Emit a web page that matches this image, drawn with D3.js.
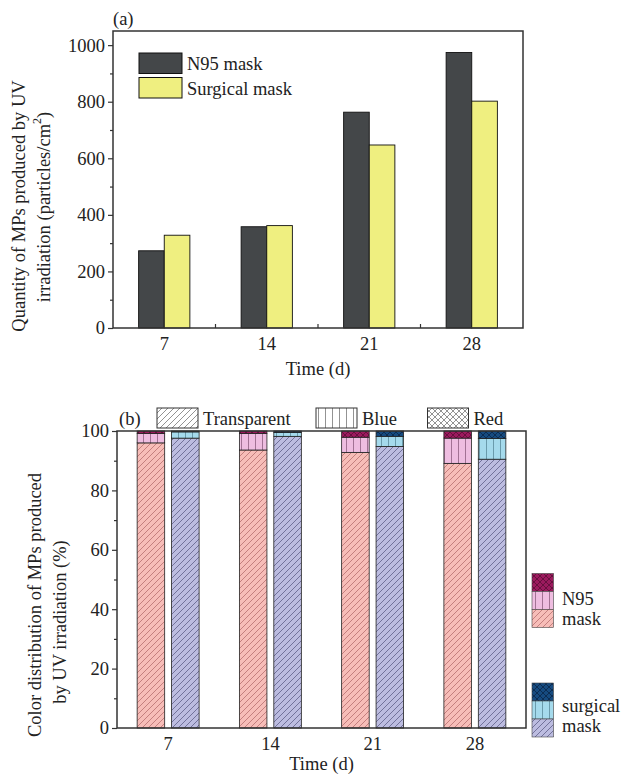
<!DOCTYPE html>
<html>
<head>
<meta charset="utf-8">
<script src="https://cdn.jsdelivr.net/npm/d3@7"></script>
<style>
  html, body { margin: 0; padding: 0; background: #fff; }
  svg { display: block; }
  text { font-family: "Liberation Serif", "Times New Roman", serif; fill: #222; }
</style>
</head>
<body>
<svg id="chart" width="622" height="774"></svg>
<script>
// ---------- DATA ----------
const days = ["7", "14", "21", "28"];
// (a) Quantity of MPs (particles/cm^2)
const n95Quantity = [273, 358, 763, 974];
const surgicalQuantity = [328, 362, 647, 802];
const quantityTicks = [0, 200, 400, 600, 800, 1000];
// (b) Colour distribution (%)
const colorKeys = ["Transparent", "Blue", "Red"];
const n95Transparent = [96.0, 93.6, 92.8, 89.1];
const n95Blue = [3.2, 5.6, 5.1, 8.5];
const n95Red = [0.8, 0.8, 2.1, 2.4];
const surgicalTransparent = [97.6, 98.2, 94.8, 90.5];
const surgicalBlue = [2.1, 1.3, 3.4, 7.0];
const surgicalRed = [0.3, 0.5, 1.8, 2.5];
const percentTicks = [0, 20, 40, 60, 80, 100];

// ---------- SETUP ----------
const svg = d3.select("#chart");
const defs = svg.append("defs");
const FONT = 18.5;
const AX = "#333";

function makePattern(id, type, bg, fg) {
  const size = type === "vert" ? 7 : 6;
  const p = defs.append("pattern").attr("id", id)
    .attr("patternUnits", "userSpaceOnUse")
    .attr("width", size).attr("height", size);
  p.append("rect").attr("width", size).attr("height", size).attr("fill", bg);
  const g = p.append("g").attr("stroke", fg).attr("stroke-width", 0.8).attr("fill", "none");
  if (type === "diag" || type === "cross") {
    g.append("path").attr("d", `M-1,1 l2,-2 M0,${size} l${size},-${size} M${size - 1},${size + 1} l2,-2`);
  }
  if (type === "cross") {
    g.append("path").attr("d", `M-1,${size - 1} l2,2 M0,0 l${size},${size} M${size - 1},-1 l2,2`);
  }
  if (type === "vert") {
    g.append("path").attr("d", `M${size / 2},0 v${size}`);
  }
}
const patType = { Transparent: "diag", Blue: "vert", Red: "cross" };
const n95Colors = { Transparent: ["#F7BDB8", "#B86E6E"], Blue: ["#EEBDE0", "#8E5E80"], Red: ["#9C1A5E", "#5A0E36"] };
const surgColors = { Transparent: ["#BCBCE0", "#606088"], Blue: ["#A5DAEC", "#5A8C9C"], Red: ["#164B80", "#0A2648"] };
colorKeys.forEach(k => {
  makePattern("n95-" + k, patType[k], n95Colors[k][0], n95Colors[k][1]);
  makePattern("surg-" + k, patType[k], surgColors[k][0], surgColors[k][1]);
  makePattern("leg-" + k, patType[k], "#fff", "#777");
});

function styleAxis(g) {
  g.select(".domain").remove();
  g.selectAll("line").attr("stroke", AX).attr("stroke-width", 1.2);
  g.selectAll("text").attr("font-size", FONT).attr("fill", "#222")
    .attr("font-family", '"Liberation Serif", serif');
}

// ================= (a) =================
{
  const L = 113, R = 523, T = 31, B = 328;
  const x = d3.scaleBand().domain(days).range([L, R]).padding(0);
  const y = d3.scaleLinear().domain([0, 1050]).range([B, T]);
  const sub = d3.scaleBand().domain(["N95", "Surgical"])
    .range([x.bandwidth() * 0.25, x.bandwidth() * 0.75]).padding(0);

  const rows = days.map((d, i) => ({ day: d, N95: n95Quantity[i], Surgical: surgicalQuantity[i] }));
  const colA = { N95: "#444749", Surgical: "#EFEF80" };

  const g = svg.append("g");
  rows.forEach(r => {
    ["N95", "Surgical"].forEach(k => {
      g.append("rect")
        .attr("x", x(r.day) + sub(k)).attr("width", sub.bandwidth())
        .attr("y", y(r[k])).attr("height", y(0) - y(r[k]))
        .attr("fill", colA[k]).attr("stroke", "#111").attr("stroke-width", 0.9);
    });
  });

  // y axis major + minor
  const ya = svg.append("g").attr("transform", `translate(${L},0)`)
    .call(d3.axisLeft(y).tickValues(quantityTicks).tickFormat(d3.format("d")).tickSize(5).tickPadding(3));
  styleAxis(ya);
  const ym = svg.append("g").attr("transform", `translate(${L},0)`)
    .call(d3.axisLeft(y).tickValues(d3.range(100, 1001, 200)).tickSize(3).tickFormat(""));
  styleAxis(ym);

  // x axis labels, boundary ticks
  const xa = svg.append("g").attr("transform", `translate(0,${B})`)
    .call(d3.axisBottom(x).tickSize(0).tickPadding(9));
  styleAxis(xa);
  xa.selectAll("text").attr("dy", "0.71em");
  svg.append("g").selectAll("line").data(days.slice(1)).join("line")
    .attr("x1", d => x(d)).attr("x2", d => x(d))
    .attr("y1", B).attr("y2", B - 4).attr("stroke", AX).attr("stroke-width", 1.2);

  // frame
  svg.append("rect").attr("x", L).attr("y", T).attr("width", R - L).attr("height", B - T)
    .attr("fill", "none").attr("stroke", AX).attr("stroke-width", 1.5);

  // legend
  const leg = [["N95", "N95 mask"], ["Surgical", "Surgical mask"]];
  leg.forEach((l, i) => {
    svg.append("rect").attr("x", 139).attr("y", 53 + i * 24.5).attr("width", 43).attr("height", 20.5)
      .attr("fill", colA[l[0]]).attr("stroke", "#111").attr("stroke-width", 1);
    svg.append("text").attr("x", 187).attr("y", 70 + i * 24.5).attr("font-size", FONT).text(l[1]);
  });

  svg.append("text").attr("x", 113).attr("y", 25).attr("font-size", FONT).text("(a)");
  svg.append("text").attr("x", (L + R) / 2).attr("y", 375).attr("text-anchor", "middle")
    .attr("font-size", FONT).text("Time (d)");

  // y title
  svg.append("text").attr("transform", "translate(25,206) rotate(-90)").attr("text-anchor", "middle")
    .attr("font-size", FONT).text("Quantity of MPs produced by UV");
  const t2 = svg.append("text").attr("transform", "translate(50,207) rotate(-90)").attr("text-anchor", "middle")
    .attr("font-size", FONT);
  t2.append("tspan").text("irradiation (particles/cm");
  t2.append("tspan").attr("font-size", 12).attr("dy", -9).text("2");
  t2.append("tspan").attr("dy", 9).text(")");
}

// ================= (b) =================
{
  const L = 117, R = 526, T = 431, B = 728;
  const x = d3.scaleBand().domain(days).range([L, R]).padding(0);
  const y = d3.scaleLinear().domain([0, 100]).range([B, T]);
  const sub = d3.scaleBand().domain(["N95", "Surgical"])
    .range([x.bandwidth() * 0.197, x.bandwidth() * 0.803]).paddingInner(0.2).paddingOuter(0);

  const n95Rows = days.map((d, i) => ({ day: d, Transparent: n95Transparent[i], Blue: n95Blue[i], Red: n95Red[i] }));
  const surgRows = days.map((d, i) => ({ day: d, Transparent: surgicalTransparent[i], Blue: surgicalBlue[i], Red: surgicalRed[i] }));
  const stack = d3.stack().keys(colorKeys);

  [["N95", "n95", n95Rows], ["Surgical", "surg", surgRows]].forEach(([mask, pre, rows]) => {
    const series = stack(rows);
    series.forEach(s => {
      svg.append("g").selectAll("rect").data(s).join("rect")
        .attr("x", d => x(d.data.day) + sub(mask)).attr("width", sub.bandwidth())
        .attr("y", d => y(d[1])).attr("height", d => y(d[0]) - y(d[1]))
        .attr("fill", `url(#${pre}-${s.key})`).attr("stroke", "#222").attr("stroke-width", 0.8);
    });
  });

  const ya = svg.append("g").attr("transform", `translate(${L},0)`)
    .call(d3.axisLeft(y).tickValues(percentTicks).tickSize(5).tickPadding(3));
  styleAxis(ya);
  const ym = svg.append("g").attr("transform", `translate(${L},0)`)
    .call(d3.axisLeft(y).tickValues(d3.range(10, 100, 20)).tickSize(3).tickFormat(""));
  styleAxis(ym);

  const xa = svg.append("g").attr("transform", `translate(0,${B})`)
    .call(d3.axisBottom(x).tickSize(0).tickPadding(9));
  styleAxis(xa);
  xa.selectAll("text").attr("dy", "0.71em");

  svg.append("rect").attr("x", L).attr("y", T).attr("width", R - L).attr("height", B - T)
    .attr("fill", "none").attr("stroke", AX).attr("stroke-width", 1.5);

  // top legend
  const topLeg = [["Transparent", 157], ["Blue", 316], ["Red", 427.5]];
  topLeg.forEach(([k, lx]) => {
    svg.append("rect").attr("x", lx).attr("y", 408).attr("width", 41).attr("height", 20)
      .attr("fill", `url(#leg-${k})`).attr("stroke", "#333").attr("stroke-width", 1);
    svg.append("text").attr("x", lx + 46).attr("y", 425).attr("font-size", FONT).text(k);
  });

  // right legend
  function sideLegend(pre, top, lines, baselines) {
    const ks = ["Red", "Blue", "Transparent"];
    ks.forEach((k, i) => {
      svg.append("rect").attr("x", 532).attr("y", top + i * 18).attr("width", 21.5).attr("height", 18)
        .attr("fill", `url(#${pre}-${k})`).attr("stroke", "#444").attr("stroke-width", 0.6);
    });
    lines.forEach((t, i) => {
      svg.append("text").attr("x", 562).attr("y", baselines[i]).attr("font-size", FONT).text(t);
    });
  }
  sideLegend("n95", 573.5, ["N95", "mask"], [605, 625]);
  sideLegend("surg", 683, ["surgical", "mask"], [712, 732]);

  svg.append("text").attr("x", 119).attr("y", 425).attr("font-size", FONT).text("(b)");
  svg.append("text").attr("x", (L + R) / 2).attr("y", 770).attr("text-anchor", "middle")
    .attr("font-size", FONT).text("Time (d)");

  svg.append("text").attr("transform", "translate(41,605) rotate(-90)").attr("text-anchor", "middle")
    .attr("font-size", FONT).text("Color distribution of MPs produced");
  svg.append("text").attr("transform", "translate(66,622) rotate(-90)").attr("text-anchor", "middle")
    .attr("font-size", FONT).text("by UV irradiation (%)");
}
</script>
</body>
</html>
